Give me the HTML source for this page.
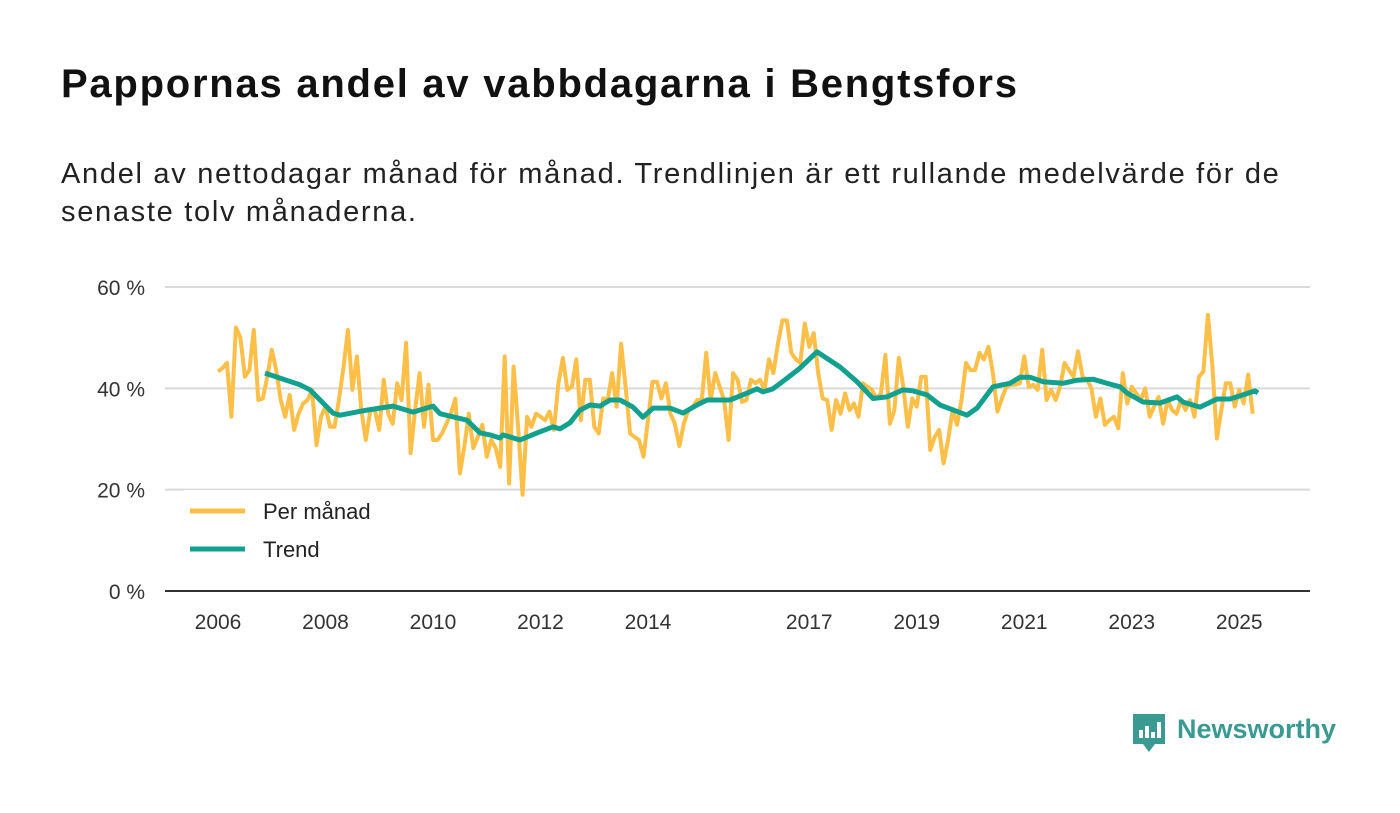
<!DOCTYPE html>
<html><head><meta charset="utf-8">
<style>
body{margin:0;background:#fff;font-family:"Liberation Sans","DejaVu Sans",sans-serif;}
#wrap{position:relative;width:1400px;height:813px;overflow:hidden;}
h1{position:absolute;left:61px;top:62px;margin:0;font-size:40px;font-weight:bold;color:#111;letter-spacing:1.75px}
p.sub{position:absolute;left:61px;top:155px;margin:0;font-size:29px;letter-spacing:1.7px;line-height:38px;color:#222;width:1240px}
svg{position:absolute;left:0;top:0}
</style></head><body>
<div id="wrap">
<h1>Pappornas andel av vabbdagarna i Bengtsfors</h1>
<p class="sub">Andel av nettodagar månad för månad. Trendlinjen är ett rullande medelvärde för de senaste tolv månaderna.</p>
<svg id="chart" width="1400" height="813"></svg>
</div>
<script>
const yTicks=[0,20,40,60];
const xTickYears=[2006,2008,2010,2012,2014,2017,2019,2021,2023,2025];
const startYear=2006;
const monthly=[43.3,44,45,34.4,52,50,42.3,43.6,51.5,37.7,38,42.3,47.6,43.6,37.7,34.4,38.7,31.8,35,37,37.7,39.7,28.8,34.4,36.4,32.4,32.4,37.7,44,51.5,39.7,46.3,35.7,29.8,35.7,35.7,31.8,41.7,35,33,41,37.7,49,27.2,35.7,43,32.4,40.7,29.8,29.8,31.1,33,35,38,23.2,28.6,35,28.2,30.4,32.8,26.5,29.8,28.2,24.5,46.3,21.2,44.3,32.4,19,34.4,32.4,35,34.4,33.7,35.4,31.8,41,46,39.7,40.3,45.7,33.7,41.7,41.7,32.4,31.1,38,37.7,43,36.4,48.8,40.3,31.1,30.4,29.8,26.5,33.7,41.3,41.3,38,41,35,33,28.6,33,35.7,36.4,37.7,37.7,47,37.7,43,40.3,37.7,29.8,43,41.7,37.3,37.7,41.7,41,41.7,39.7,45.7,43,48.8,53.4,53.4,47,45.7,45,52.8,48.2,50.9,43,38,37.7,31.8,37.7,35,39,35.7,37,34.4,41,40.3,39.7,38,39,46.6,33,35.7,46,40.3,32.4,38,36.4,42.3,42.3,27.8,30.4,31.8,25.2,29.8,35.7,32.8,37.7,45,43.6,43.6,47,45.7,48.2,43,35.4,38,40.3,40.7,40.7,41,46.3,40.3,40.7,39.7,47.6,37.7,39.7,37.7,40.3,45,43.6,42.3,47.3,42.3,41.7,40,34.4,38,32.8,33.7,34.4,32.1,43,37,40.3,39,37.7,40,34.4,36.4,38.3,33,37.7,35.7,35,37.7,35.7,37.7,34.4,42.3,43.3,54.5,44.3,30.1,35.7,41,41,36.4,39.7,37,42.7,35];
const trendX=[265,300,310,333,340,367,393,413,433,440,467,480,490,500,503,520,537,553,560,570,580,590,600,610,620,633,643,653,670,683,697,707,730,750,757,763,773,787,800,817,840,857,873,887,903,913,927,940,967,977,993,1010,1020,1030,1043,1063,1077,1093,1107,1120,1127,1143,1160,1177,1183,1200,1217,1230,1243,1255,1258];
const trendValues=[43,40.7,39.7,35.1,34.7,35.7,36.5,35.3,36.5,35,33.7,31.2,30.8,30.2,30.8,29.8,31.2,32.4,32,33.2,35.7,36.7,36.5,37.7,37.7,36.3,34.3,36.1,36.1,35.1,36.7,37.7,37.7,39.3,39.9,39.3,39.9,42,44,47.2,44.2,41.3,38,38.3,39.7,39.5,38.7,36.7,34.7,36.1,40.3,41,42.2,42.2,41.3,41,41.6,41.8,41,40.3,39.1,37.3,37.1,38.3,37.3,36.3,37.9,37.9,38.7,39.5,39.1];
const trendYears=trendX.map(x=>2006+(x-218)/53.75);

const svg=document.getElementById('chart');
const NS='http://www.w3.org/2000/svg';
const X0=218,PXY=53.75,Y0=591,PXP=5.067;
const xs=yr=>X0+(yr-startYear)*PXY;
const ys=v=>Y0-v*PXP;
function mk(t,a){const e=document.createElementNS(NS,t);for(const k in a)e.setAttribute(k,a[k]);svg.appendChild(e);return e;}
yTicks.forEach(v=>{
  if(v>0){const g=mk('line',{x1:165,x2:1310,y1:ys(v),y2:ys(v),stroke:'#d9d9d9','stroke-width':2});
  
  }
  const t=mk('text',{x:145,y:ys(v)+8,'text-anchor':'end','font-size':21,fill:'#333','font-family':'Liberation Sans, sans-serif'});
  t.textContent=v+' %';
  
  
});
const ax=mk('line',{x1:165,x2:1310,y1:Y0,y2:Y0,stroke:'#333','stroke-width':2});


xTickYears.forEach(yr=>{
  const t=mk('text',{x:xs(yr),y:629,'text-anchor':'middle','font-size':21,fill:'#333','font-family':'Liberation Sans, sans-serif'});
  t.textContent=yr;
  
  
});
const mp=monthly.map((v,i)=>xs(startYear+i/12).toFixed(1)+','+ys(v).toFixed(1)).join(' ');
const ml=mk('polyline',{points:mp,fill:'none',stroke:'#fdbf47','stroke-width':4,'stroke-linejoin':'round'});


const tp=trendValues.map((v,i)=>xs(trendYears[i]).toFixed(1)+','+ys(v).toFixed(1)).join(' ');
const tl=mk('polyline',{points:tp,fill:'none',stroke:'#12a08f','stroke-width':5,'stroke-linejoin':'round'});


const lb=mk('rect',{x:184,y:490,width:216,height:80,fill:'#fff'});


[['Per månad','#fdbf47',511],['Trend','#12a08f',549]].forEach(([n,c,y])=>{
  const l=mk('line',{x1:190,x2:245,y1:y,y2:y,stroke:c,'stroke-width':5});
  
  
  const t=mk('text',{x:263,y:y+8,'font-size':22,fill:'#222','font-family':'Liberation Sans, sans-serif'});
  t.textContent=n;
  
  
});
const lg=mk('path',{d:'M1133 714 h32 v30 h-10 l-6 8 l-6 -8 h-10 z',fill:'#3a9a92'});


[[1139,8],[1145,12],[1151,6],[1157,16]].forEach(([x,h])=>{
  const b=mk('rect',{x:x,y:738-h,width:4,height:h,fill:'#fff'});
  
  
});
const lt=mk('text',{x:1177,y:738,'font-size':27,'font-weight':'bold',fill:'#3a9a92','font-family':'Liberation Sans, sans-serif'});
lt.textContent='Newsworthy';


</script>
</body></html>
